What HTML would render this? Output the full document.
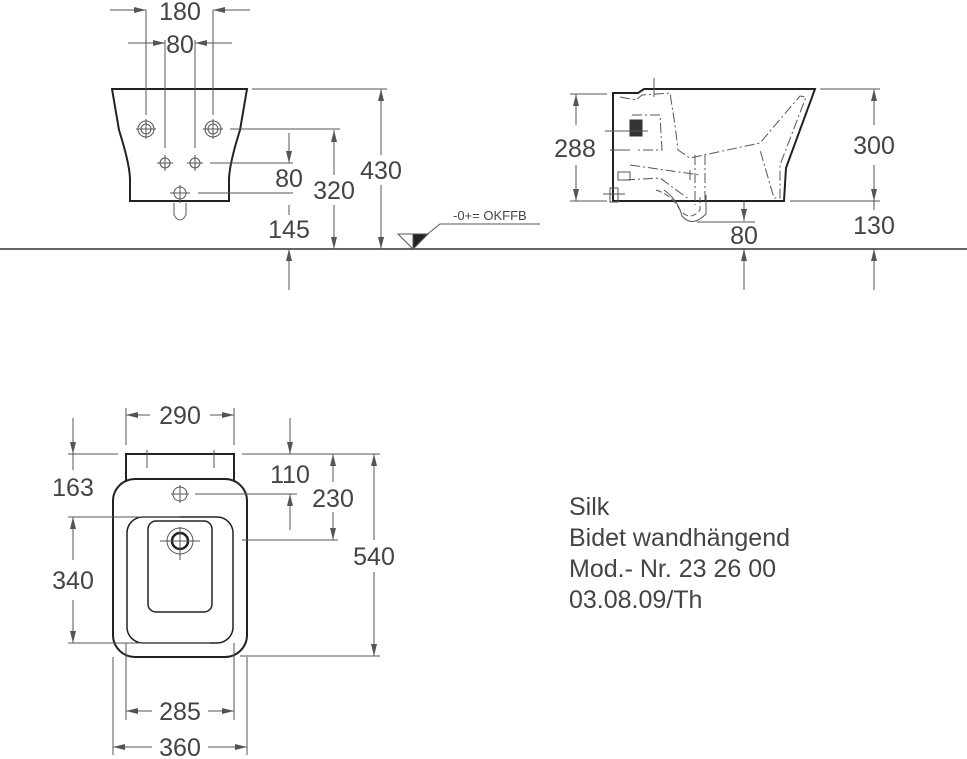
<!DOCTYPE html>
<html><head><meta charset="utf-8"><style>
html,body{margin:0;padding:0;background:#fff}
svg{display:block}
text{font-family:"Liberation Sans",sans-serif;fill:#444}
.d{font-size:25px;text-anchor:middle}
.t{font-size:25px}
</style></head><body>
<svg width="967" height="759" viewBox="0 0 967 759" xmlns="http://www.w3.org/2000/svg">
<defs>
<marker id="a" viewBox="0 0 12 6" refX="12" refY="3" markerWidth="12" markerHeight="6" markerUnits="userSpaceOnUse" orient="auto"><path d="M0,0 L12,3 L0,6 z" fill="#555"/></marker>
</defs>
<g stroke="#555" stroke-width="1" fill="none">
<line x1="0" y1="249" x2="967" y2="249" stroke="#666" stroke-width="2"/>

<path d="M112,89 L247,89 L240,130 Q229,165 229,180 L229,201 L130,201 L130,180 Q130,165 119,130 Z" stroke="#222" stroke-width="2"/>
<circle cx="146" cy="129" r="8"/><circle cx="146" cy="129" r="5"/>
<circle cx="213" cy="129" r="8"/><circle cx="213" cy="129" r="5"/>
<circle cx="165" cy="163" r="5"/><circle cx="195" cy="163" r="5"/>
<circle cx="180" cy="193" r="6"/>
<path d="M174,203 L174,215 Q180,225 186,215 L186,203"/>
<path d="M136,129 H156 M146,119 V139 M203,129 H223 M213,119 V139 M157,163 H173 M165,155 V171 M187,163 H203 M195,155 V171 M170,193 H190 M180,185 V203"/>
<path d="M146,10 V115 M213,10 V115 M165,40 V148 M195,40 V148"/>
<line x1="110" y1="10" x2="146" y2="10" marker-end="url(#a)"/>
<line x1="250" y1="10" x2="213" y2="10" marker-end="url(#a)"/>
<line x1="128" y1="43" x2="165" y2="43" marker-end="url(#a)"/>
<line x1="232" y1="43" x2="195" y2="43" marker-end="url(#a)"/>
<path d="M252,89 H387 M230,129 H340 M210,163 H293 M198,193 H293"/>
<line x1="381" y1="155" x2="381" y2="89" marker-end="url(#a)"/>
<line x1="381" y1="185" x2="381" y2="249" marker-end="url(#a)"/>
<line x1="334" y1="175" x2="334" y2="130" marker-end="url(#a)"/>
<line x1="334" y1="205" x2="334" y2="249" marker-end="url(#a)"/>
<line x1="289" y1="133" x2="289" y2="163" marker-end="url(#a)"/>
<line x1="289" y1="205" x2="289" y2="215"/>
<line x1="289" y1="290" x2="289" y2="249" marker-end="url(#a)"/>
<path d="M398,234 L428,234 L413,249 Z" fill="#fff"/>
<path d="M413,234 L428,234 L413,249 Z" fill="#222"/>
<path d="M425,236 L440,224 L540,224"/>

<path d="M613,93 L638,93 L644,89 L815,89 L786,168 L784,201 L613,201 Z" stroke="#222" stroke-width="2"/>
<g stroke-dasharray="10,3,2,3">
<path d="M620,97 L636,100 L642,95 L670,93 L675,125 L678,150 L690,158 L760,143 L800,96 L806,97 L780,165 L780,198 L774,198 L760,150"/>
<path d="M632,115 L660,115 L662,150 L635,150"/>
<path d="M630,165 L700,175 M625,180 L660,178 L690,200"/>
<path d="M705,155 L705,200 M695,155 L695,205"/>
</g>
<path d="M656,190 Q672,195 680,210 Q690,222 700,210 L700,195" stroke-dasharray="6,3"/>
<path d="M664,190 Q678,200 682,216 Q692,228 706,214 L706,195"/>
<rect x="630" y="120" width="12" height="16" fill="#333" stroke="#333"/>
<rect x="618" y="172" width="12" height="8"/>
<rect x="610" y="188" width="8" height="14"/>
<path d="M605,131 H648 M610,150 H630 M603,194 H625 M654,78 V97 M690,170 V180"/>
<path d="M570,94 H607 M570,201 H607"/>
<line x1="576" y1="125" x2="576" y2="94" marker-end="url(#a)"/>
<line x1="576" y1="165" x2="576" y2="201" marker-end="url(#a)"/>
<path d="M820,89 H880 M790,201 H880"/>
<line x1="874" y1="125" x2="874" y2="89" marker-end="url(#a)"/>
<line x1="874" y1="165" x2="874" y2="201" marker-end="url(#a)"/>
<line x1="874" y1="201" x2="874" y2="210"/>
<line x1="874" y1="290" x2="874" y2="249" marker-end="url(#a)"/>
<line x1="744" y1="201" x2="744" y2="221" marker-end="url(#a)"/>
<path d="M697,222 H755"/>
<line x1="744" y1="290" x2="744" y2="249" marker-end="url(#a)"/>

<path d="M126,482 L126,454 L234,454 L234,482" stroke="#222" stroke-width="2"/>
<path d="M147,450 V468 M214,450 V468"/>
<rect x="113" y="479" width="134" height="178" rx="22" stroke="#222" stroke-width="2"/>
<rect x="127" y="517" width="106" height="126" rx="16" stroke="#222" stroke-width="1.5"/>
<rect x="148" y="521" width="64" height="91" rx="8" stroke="#222" stroke-width="1.5"/>
<circle cx="180" cy="541" r="13"/><circle cx="180" cy="541" r="8" stroke-width="2.5" stroke="#222"/>
<path d="M160,541 H200 M180,527 V560"/>
<circle cx="180" cy="494" r="7"/><path d="M171,494 H189 M180,485 V503"/>
<path d="M126,408 V445 M234,408 V445"/>
<line x1="150" y1="415" x2="126" y2="415" marker-end="url(#a)"/>
<line x1="210" y1="415" x2="234" y2="415" marker-end="url(#a)"/>
<path d="M68,454 H118 M242,454 H380 M68,517 H180 M68,643 H210 M195,494 H297 M242,540 H338 M240,656 H380"/>
<line x1="73" y1="418" x2="73" y2="454" marker-end="url(#a)"/>
<line x1="73" y1="470" x2="73" y2="454"/>
<line x1="73" y1="560" x2="73" y2="517" marker-end="url(#a)"/>
<line x1="73" y1="600" x2="73" y2="643" marker-end="url(#a)"/>
<line x1="290" y1="418" x2="290" y2="454" marker-end="url(#a)"/>
<line x1="290" y1="530" x2="290" y2="494" marker-end="url(#a)"/>
<line x1="333" y1="482" x2="333" y2="454" marker-end="url(#a)"/>
<line x1="333" y1="512" x2="333" y2="540" marker-end="url(#a)"/>
<line x1="374" y1="540" x2="374" y2="454" marker-end="url(#a)"/>
<line x1="374" y1="572" x2="374" y2="656" marker-end="url(#a)"/>
<path d="M126,643 V720 M234,643 V720 M113,657 V755 M247,657 V755"/>
<line x1="152" y1="711" x2="126" y2="711" marker-end="url(#a)"/>
<line x1="208" y1="711" x2="234" y2="711" marker-end="url(#a)"/>
<line x1="152" y1="747" x2="113" y2="747" marker-end="url(#a)"/>
<line x1="208" y1="747" x2="247" y2="747" marker-end="url(#a)"/>
</g>

<g>
<text class="d" x="180" y="20">180</text>
<text class="d" x="180" y="53">80</text>
<text class="d" x="381" y="179">430</text>
<text class="d" x="334" y="199">320</text>
<text class="d" x="289" y="187">80</text>
<text class="d" x="289" y="238">145</text>
<text x="453" y="220" style="font-size:13px">-0+= OKFFB</text>
<text class="d" x="575" y="157">288</text>
<text class="d" x="874" y="154">300</text>
<text class="d" x="874" y="234">130</text>
<text class="d" x="744" y="244">80</text>
<text class="d" x="180" y="424">290</text>
<text class="d" x="73" y="496">163</text>
<text class="d" x="73" y="589">340</text>
<text class="d" x="290" y="483">110</text>
<text class="d" x="333" y="507">230</text>
<text class="d" x="374" y="565">540</text>
<text class="d" x="180" y="720">285</text>
<text class="d" x="180" y="756">360</text>
<text class="t" x="569" y="515">Silk</text>
<text class="t" x="569" y="546">Bidet wandhängend</text>
<text class="t" x="569" y="577">Mod.- Nr. 23 26 00</text>
<text class="t" x="569" y="608">03.08.09/Th</text>
</g>
</svg>
</body></html>
